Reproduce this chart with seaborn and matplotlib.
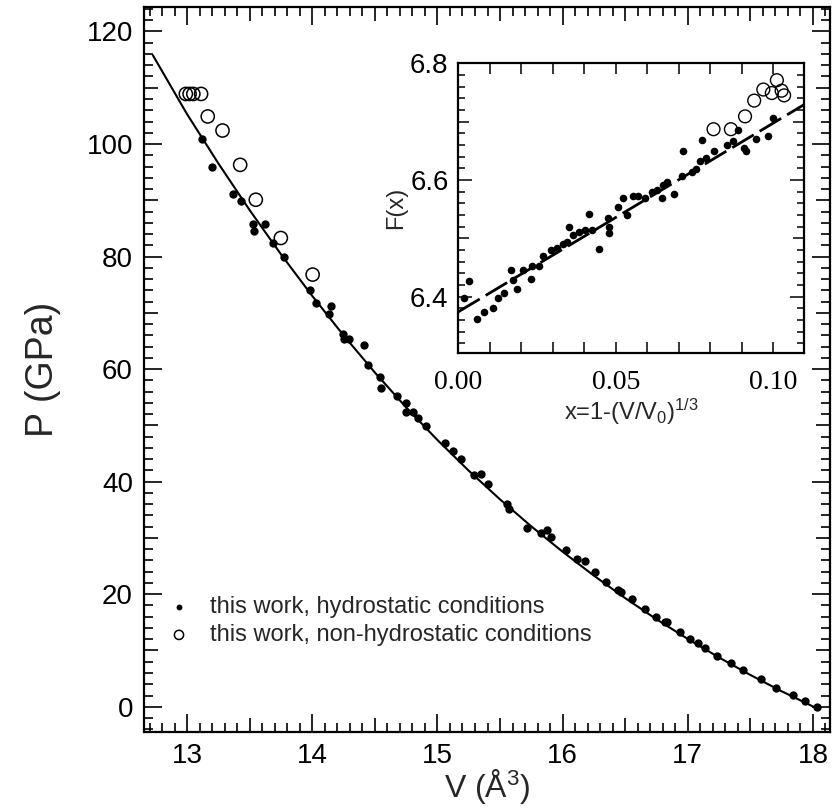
import matplotlib
matplotlib.use("Agg")
import matplotlib.pyplot as plt
import seaborn as sns
import pandas as pd
from matplotlib.ticker import MultipleLocator, FuncFormatter

# ---------------- data ----------------
V_hydro = [13.117, 13.197, 13.363, 13.432, 13.523, 13.536, 13.619, 13.683, 13.776, 13.984,
           14.032, 14.149, 14.130, 14.243, 14.256, 14.296, 14.416, 14.446, 14.544, 14.552,
           14.677, 14.749, 14.749, 14.805, 14.845, 14.909, 15.058, 15.122, 15.192, 15.290,
           15.344, 15.406, 15.557, 15.570, 15.712, 15.824, 15.872, 15.909, 16.029, 16.117,
           16.176, 16.256, 16.344, 16.443, 16.470, 16.552, 16.656, 16.744, 16.816, 16.837,
           16.936, 17.018, 17.083, 17.138, 17.237, 17.349, 17.437, 17.584, 17.704, 17.837,
           17.936, 18.032]
P_hydro = [100.9, 95.9, 91.2, 89.9, 85.8, 84.6, 85.8, 82.4, 79.9, 74.1,
           71.8, 71.3, 69.8, 66.3, 65.4, 65.4, 64.2, 60.7, 58.6, 56.7,
           55.3, 53.9, 52.4, 52.4, 51.3, 49.9, 46.8, 45.4, 44.1, 41.1,
           41.4, 39.5, 36.1, 35.2, 31.8, 30.9, 31.4, 30.1, 27.8, 26.2,
           25.9, 23.9, 22.2, 20.7, 20.4, 19.1, 17.3, 16.0, 15.1, 15.0,
           13.3, 12.0, 11.3, 10.5, 9.0, 7.7, 6.6, 4.9, 3.4, 2.1,
           1.0, -0.1]

V_nonhydro = [12.99, 13.02, 13.05, 13.112, 13.165, 13.283, 13.424, 13.549, 13.749, 14.003]
P_nonhydro = [108.9, 108.9, 108.9, 108.9, 104.9, 102.4, 96.3, 90.1, 83.3, 76.8]

V_fit = [12.726, 13.0, 13.25, 13.5, 13.75, 14.0, 14.25, 14.5, 14.75, 15.0, 15.25, 15.5,
         15.75, 16.0, 16.25, 16.5, 16.75, 17.0, 17.25, 17.5, 17.75, 18.0, 18.04]
P_fit = [115.8, 105.3, 96.55, 88.25, 80.4, 73.0, 66.0, 59.4, 53.2, 47.4, 41.95, 36.85,
         32.05, 27.55, 23.3, 19.3, 15.55, 12.05, 8.75, 5.65, 2.75, 0.05, -0.3]

# inset: F(x) vs x
x_hydro = [0.0019, 0.0035, 0.0060, 0.0083, 0.0111, 0.0127, 0.0145, 0.0167, 0.0175, 0.0185,
           0.0206, 0.0230, 0.0233, 0.0257, 0.0270, 0.0293, 0.0312, 0.0331, 0.0344, 0.0352,
           0.0365, 0.0384, 0.0402, 0.0416, 0.0423, 0.0447, 0.0474, 0.0479, 0.0477, 0.0508,
           0.0522, 0.0534, 0.0556, 0.0571, 0.0593, 0.0614, 0.0630, 0.0646, 0.0651, 0.0663,
           0.0685, 0.0709, 0.0714, 0.0741, 0.0754, 0.0767, 0.0772, 0.0786, 0.0810, 0.0852,
           0.0871, 0.0889, 0.0907, 0.0913, 0.0945, 0.0982, 0.1000]
F_hydro = [6.397, 6.427, 6.361, 6.373, 6.380, 6.397, 6.406, 6.445, 6.429, 6.414,
           6.445, 6.431, 6.453, 6.453, 6.469, 6.480, 6.483, 6.491, 6.494, 6.519,
           6.506, 6.511, 6.514, 6.542, 6.514, 6.481, 6.534, 6.520, 6.509, 6.554,
           6.569, 6.540, 6.573, 6.573, 6.569, 6.580, 6.583, 6.569, 6.591, 6.597,
           6.576, 6.606, 6.649, 6.613, 6.618, 6.633, 6.669, 6.637, 6.650, 6.660,
           6.666, 6.685, 6.654, 6.650, 6.671, 6.675, 6.706]
x_nonhydro = [0.0810, 0.0865, 0.0910, 0.0939, 0.0968, 0.0995, 0.1011, 0.1026, 0.1034]
F_nonhydro = [6.687, 6.687, 6.709, 6.736, 6.755, 6.749, 6.771, 6.753, 6.745]
x_fit = [0.0, 0.11]
F_fit = [6.374, 6.730]

label_hydro = "this work, hydrostatic conditions"
label_nonhydro = "this work, non-hydrostatic conditions"

# ---------------- style ----------------
sns.set_style("ticks")
plt.rcParams["font.family"] = ["Liberation Sans", "DejaVu Sans"]
plt.rcParams["mathtext.fontset"] = "custom"
plt.rcParams["mathtext.rm"] = "Liberation Sans"
plt.rcParams["mathtext.it"] = "Liberation Sans:italic"
plt.rcParams["axes.edgecolor"] = "black"
plt.rcParams["xtick.color"] = "black"
plt.rcParams["ytick.color"] = "black"

fig = plt.figure(figsize=(8.32, 8.09), dpi=100)
ax = fig.add_axes([0.1731, 0.0955, 0.8245, 0.8962])

sns.lineplot(x=V_fit, y=P_fit, ax=ax, color="black", lw=1.5, sort=False,
             estimator=None)
sns.scatterplot(x=V_hydro, y=P_hydro, ax=ax, color="black", s=36, linewidth=0,
                label=label_hydro, zorder=3)
sns.scatterplot(x=V_nonhydro, y=P_nonhydro, ax=ax, facecolors="none",
                edgecolor="black", s=90, linewidth=1.1, label=label_nonhydro, zorder=3)
ax.collections[-1].set_facecolor("none")

ax.set_xlim(12.656, 18.136)
ax.set_ylim(-4.44, 124.4)

ax.xaxis.set_major_locator(MultipleLocator(0.5))
ax.xaxis.set_minor_locator(MultipleLocator(0.1))
ax.xaxis.set_major_formatter(FuncFormatter(
    lambda v, p: f"{v:.0f}" if abs(v - round(v)) < 1e-6 else ""))
ax.yaxis.set_major_locator(MultipleLocator(10))
ax.yaxis.set_minor_locator(MultipleLocator(2))
ax.yaxis.set_major_formatter(FuncFormatter(
    lambda v, p: f"{v:.0f}" if abs(v / 20 - round(v / 20)) < 1e-6 else ""))

ax.tick_params(which="both", direction="in", top=True, right=True, width=1.2,
               labelsize=20)
ax.tick_params(which="minor", length=6.8)
ax.tick_params(which="major", length=13)
ax.tick_params(axis="x", which="major", pad=8)
ax.tick_params(axis="y", which="major", pad=8)
for s in ax.spines.values():
    s.set_linewidth(1.6)

ax.set_xlabel("V (Å$\\mathregular{^3}$)", fontsize=23, labelpad=-1)
ax.set_ylabel("P (GPa)", fontsize=27, labelpad=18)

leg = ax.legend(loc="upper left", bbox_to_anchor=(0.02, 0.200), frameon=False,
                fontsize=17, markerscale=0.7, handletextpad=0.82, labelspacing=0.25,
                borderaxespad=0, handlelength=1.0)

# ---------------- inset ----------------
axi = fig.add_axes([0.5508, 0.5633, 0.4159, 0.3585])
axi.set_facecolor("white")
sns.lineplot(x=x_fit, y=F_fit, ax=axi, color="black", lw=2.0, sort=False,
             estimator=None)
axi.lines[-1].set_dashes([9, 2.5])
sns.scatterplot(x=x_hydro, y=F_hydro, ax=axi, color="black", s=30, linewidth=0,
                zorder=3)
sns.scatterplot(x=x_nonhydro, y=F_nonhydro, ax=axi, facecolors="none",
                edgecolor="black", s=85, linewidth=1.0, zorder=3)
axi.collections[-1].set_facecolor("none")
if axi.get_legend() is not None:
    axi.get_legend().remove()

axi.set_xlim(0.0, 0.1098)
axi.set_ylim(6.303, 6.8)
axi.xaxis.set_major_locator(MultipleLocator(0.05))
axi.xaxis.set_minor_locator(MultipleLocator(0.01))
axi.xaxis.set_major_formatter(FuncFormatter(lambda v, p: f"{v:.2f}"))
axi.yaxis.set_major_locator(MultipleLocator(0.1))
axi.yaxis.set_minor_locator(MultipleLocator(0.02))
axi.yaxis.set_major_formatter(FuncFormatter(
    lambda v, p: f"{v:.1f}" if abs(v / 0.2 - round(v / 0.2)) < 1e-6 else ""))
axi.tick_params(which="both", direction="in", top=True, right=True, width=1.1,
                labelsize=20)
axi.tick_params(axis="x", which="both", length=8, pad=12)
axi.tick_params(axis="y", which="minor", length=5)
axi.tick_params(axis="y", which="major", length=10, pad=7)
for s in axi.spines.values():
    s.set_linewidth(1.6)
axi.set_xlabel("x=1-(V/V$\\mathregular{_0}$)$\\mathregular{^{1/3}}$", fontsize=17,
               labelpad=1)
axi.set_ylabel("F(x)", fontsize=17, labelpad=2)

# ---------------- three-level tick lengths ----------------
fig.canvas.draw()


def set_levels(axis, big, big_len, mid_len):
    for t in axis.get_major_ticks():
        loc = t.get_loc()
        if loc is None:
            continue
        is_big = abs(loc / big - round(loc / big)) < 1e-6
        L = big_len if is_big else mid_len
        t.tick1line.set_markersize(L)
        t.tick2line.set_markersize(L)


set_levels(ax.xaxis, 1.0, 13, 10)
set_levels(ax.yaxis, 20.0, 13, 10)
set_levels(axi.yaxis, 0.2, 10, 8)
for lab in axi.get_xticklabels():
    lab.set_family(["Liberation Serif", "DejaVu Serif"])

fig.savefig("out.png", dpi=100)
